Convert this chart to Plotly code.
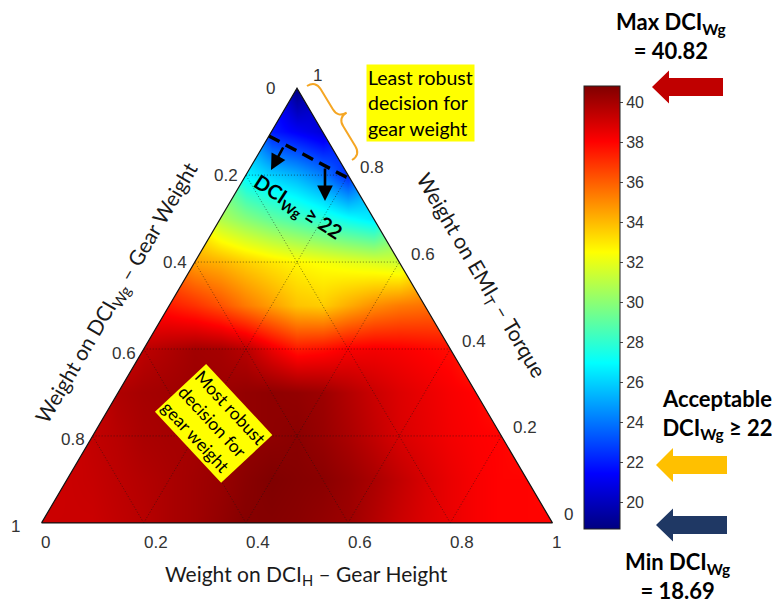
import numpy as np
import plotly.graph_objects as go

# ---------------- data ----------------
# weight on EMI_T (top vertex) for each row of samples
torque_weights = [0.0, 0.1, 0.2, 0.3, 0.4, 0.5, 0.6, 0.7, 0.8, 0.9, 1.0]
# DCI_Wg values along each row (horizontal lines of constant EMI_T weight),
# read from the left edge to the right edge in steps of 0.05 of the base width
dci_row_00 = [39.2, 39.2, 39.2, 39.4, 39.6, 39.9, 40.1, 40.4, 40.7, 40.7, 40.6,
              40.4, 40.2, 39.7, 39.2, 38.8, 38.5, 38.2, 38.0, 38.0, 38.0]
dci_row_01 = [39.2, 39.3, 39.5, 39.7, 39.9, 40.1, 40.3, 40.6, 40.82, 40.7,
              40.6, 40.3, 39.9, 39.4, 38.9, 38.5, 38.2, 38.0, 38.0]
dci_row_02 = [39.4, 39.6, 39.9, 40.0, 40.0, 40.2, 40.4, 40.5, 40.6, 40.3,
              39.9, 39.4, 38.9, 38.6, 38.3, 38.1, 38.0]
dci_row_03 = [39.8, 40.0, 40.1, 40.2, 40.2, 40.4, 40.5, 40.4, 40.2, 39.7,
              39.2, 38.8, 38.5, 38.2, 38.0]
dci_row_04 = [39.5, 39.8, 40.1, 40.0, 39.6, 38.5, 37.6, 37.8, 38.2, 38.3,
              38.2, 38.0, 37.8]
dci_row_05 = [37.5, 37.0, 36.3, 35.4, 34.6, 33.8, 33.6, 34.3, 35.0, 35.4, 35.6]
dci_row_06 = [34.6, 34.2, 33.6, 33.1, 32.7, 32.4, 32.1, 31.8, 31.5]
dci_row_07 = [30.8, 29.9, 29.1, 28.5, 27.8, 27.1, 26.5]
dci_row_08 = [26.8, 26.0, 25.3, 24.2, 22.3]
dci_row_09 = [22.0, 21.3, 20.6]
dci_row_10 = [18.69]
dci_rows = [dci_row_00, dci_row_01, dci_row_02, dci_row_03, dci_row_04, dci_row_05,
            dci_row_06, dci_row_07, dci_row_08, dci_row_09, dci_row_10]

dci_min, dci_max = 18.69, 40.82
dci_accept = 22
# EMI_T weight where the DCI_Wg = 22 boundary meets the left and right edges
accept_edge_torque = [0.89, 0.79]
axis_tick_vals = [0.0, 0.2, 0.4, 0.6, 0.8, 1.0]
axis_tick_text = ["0", "0.2", "0.4", "0.6", "0.8", "1"]
grid_vals = [0.2, 0.4, 0.6, 0.8]
cbar_ticks = [20, 22, 24, 26, 28, 30, 32, 34, 36, 38, 40]

# ---------------- geometry helpers ----------------
SQ = np.sqrt(3) / 2
OFF = 8                      # page body margin
W, H = 772, 596              # figure size (page is 780 x 604)
PL, PT, PB, PR = 16, 46, 548, 578   # plot area in page pixels
ML, MT = PL - OFF, PT - OFF
MB = H - (PB - OFF)
MR = W - (PR - OFF)
XR = [-0.05, 1.05]
YR = [-0.05, 0.95]
PW, PH = PR - PL, PB - PT


def tern(t, h):
    """EMI_T weight t (top), DCI_H weight h (bottom-right) -> cartesian."""
    return h + t / 2.0, t * SQ


def px2paper(px, py):
    return (px - PL) / PW, (PB - py) / PH


n = len(torque_weights)
xs = [round(k * 0.05, 4) for k in range(2 * n - 1)]
ys = [round(t * SQ, 6) for t in torque_weights]
Z = [[None] * len(xs) for _ in range(n)]
for i, row in enumerate(dci_rows):
    for k, v in enumerate(row):
        Z[i][i + k] = v

jet = [[0, "rgb(0,0,128)"], [0.125, "rgb(0,0,255)"], [0.375, "rgb(0,255,255)"],
       [0.625, "rgb(255,255,0)"], [0.875, "rgb(255,0,0)"], [1, "rgb(128,0,0)"]]

fig = go.Figure()

cb_x0, cb_y0 = px2paper(584, 529)
_, cb_y1 = px2paper(584, 86)
fig.add_trace(go.Heatmap(
    x=xs, y=ys, z=Z, zsmooth="best", connectgaps=True,
    colorscale=jet, zmin=dci_min, zmax=dci_max, hoverinfo="skip",
    colorbar=dict(x=cb_x0, xanchor="left", y=cb_y0, yanchor="bottom",
                  len=cb_y1 - cb_y0, lenmode="fraction", thickness=36,
                  xpad=0, ypad=0, outlinecolor="#222", outlinewidth=1,
                  tickvals=cbar_ticks, ticks="outside", ticklen=3, tickcolor="#444",
                  tickfont=dict(family="Liberation Sans, Arial", size=16, color="#333")),
))

# white masks outside the triangle
top_x, top_y = tern(1, 0)
mask_style = dict(mode="lines", fill="toself", fillcolor="white",
                  line=dict(width=0, color="white"), hoverinfo="skip", showlegend=False)
fig.add_trace(go.Scatter(x=[-0.2, 0, top_x, top_x, -0.2], y=[-0.2, 0, top_y, 1.2, 1.2], **mask_style))
fig.add_trace(go.Scatter(x=[1.2, 1, top_x, top_x, 1.2], y=[-0.2, 0, top_y, 1.2, 1.2], **mask_style))
fig.add_trace(go.Scatter(x=[-0.2, 1.2, 1.2, -0.2], y=[-0.2, -0.2, 0, 0], **mask_style))

# dotted ternary grid
gx, gy = [], []
for v in grid_vals:
    for (a, b) in [(tern(v, 0), tern(v, 1 - v)),          # constant EMI_T
                   (tern(0, v), tern(1 - v, v)),          # constant DCI_H
                   (tern(0, 1 - v), tern(1 - v, 0))]:     # constant DCI_Wg
        gx += [a[0], b[0], None]
        gy += [a[1], b[1], None]
fig.add_trace(go.Scatter(x=gx, y=gy, mode="lines", hoverinfo="skip", showlegend=False,
                         line=dict(color="rgba(20,20,20,0.55)", width=1, dash="1px,2px")))

# acceptable boundary DCI_Wg = 22 (dashed)
lx, ly = tern(accept_edge_torque[0], 0)
rx, ry = tern(accept_edge_torque[1], 1 - accept_edge_torque[1])
fig.add_trace(go.Scatter(x=[lx, rx], y=[ly, ry], mode="lines", hoverinfo="skip", showlegend=False,
                         line=dict(color="black", width=3.4, dash="12px,7px")))

# triangle outline
ox = [tern(0, 0)[0], tern(0, 1)[0], tern(1, 0)[0], tern(0, 0)[0]]
oy = [tern(0, 0)[1], tern(0, 1)[1], tern(1, 0)[1], tern(0, 0)[1]]
fig.add_trace(go.Scatter(x=ox, y=oy, mode="lines", hoverinfo="skip", showlegend=False,
                         line=dict(color="#111", width=1.2)))

annotations = []
tickfont = dict(family="Liberation Sans, Arial", size=17, color="#333")
# left edge labels: DCI_Wg weight
for v, s in zip(axis_tick_vals, axis_tick_text):
    x, y = tern(1 - v, 0)
    end = v in (0.0, 1.0)
    annotations.append(dict(x=x, y=y, text=s, showarrow=False, xanchor="right", yanchor="middle",
                            xshift=-20 if end else -6, yshift=-4 if v > 0.5 else 0, font=tickfont))
# bottom edge labels: DCI_H weight
for v, s in zip(axis_tick_vals, axis_tick_text):
    x, y = tern(0, v)
    end = v in (0.0, 1.0)
    annotations.append(dict(x=x, y=y, text=s, showarrow=False, xanchor="center", yanchor="middle",
                            xshift=4 if end else 12, yshift=-20, font=tickfont))
# right edge labels: EMI_T weight
for v, s in zip(axis_tick_vals, axis_tick_text):
    x, y = tern(v, 1 - v)
    annotations.append(dict(x=x, y=y, text=s, showarrow=False, xanchor="left", yanchor="middle",
                            xshift=14 if v == 1.0 else 10, yshift=13 if v == 1.0 else 8, font=tickfont))

titlefont = dict(family="Lato, Open Sans", size=21, color="#1a1a1a")


def ptext(px, py, text, **kw):
    xp, yp = px2paper(px, py)
    d = dict(x=xp, y=yp, xref="paper", yref="paper", text=text, showarrow=False,
             xanchor="center", yanchor="middle")
    d.update(kw)
    annotations.append(d)


ang = np.degrees(np.arctan2(SQ * PH / (YR[1] - YR[0]), 0.5 * PW / (XR[1] - XR[0])))
ptext(306, 575, "Weight on DCI<sub>H</sub> – Gear Height", font=titlefont)
ptext(117, 293, "Weight on DCI<sub>Wg</sub> – Gear Weight", font=titlefont, textangle=-ang)
ptext(481, 276, "Weight on EMI<sub>T</sub> – Torque", font=titlefont, textangle=ang)

boxfont = dict(family="Lato, Open Sans", size=19.5, color="black")
ptext(420, 103, "Least robust<br>decision for<br>gear weight", font=boxfont,
      bgcolor="#FFFF00", align="left", borderpad=1)
ptext(214, 423, "Most robust<br>decision for<br>gear weight",
      font=dict(family="Lato, Open Sans", size=17.5, color="black"),
      bgcolor="#FFFF00", align="left", borderpad=1, textangle=47)

ptext(298, 207, "<b>DCI<sub>Wg</sub> ≥ 22</b>",
      font=dict(family="Lato, Open Sans", size=20, color="black"), textangle=33)

boldfont = dict(family="Lato, Open Sans", size=22, color="black")
ptext(671, 36, "<b>Max DCI<sub>Wg</sub><br>= 40.82</b>", font=boldfont)
ptext(717, 414, "<b>Acceptable<br>DCI<sub>Wg</sub> ≥ 22</b>", font=boldfont)
ptext(677, 576, "<b>Min DCI<sub>Wg</sub><br>= 18.69</b>", font=boldfont)

# arrows from the dashed line
for (hx, hy, tx, ty) in [(271, 170, 284, 146), (325, 201, 325, 167)]:
    xp, yp = px2paper(hx, hy)
    annotations.append(dict(x=xp, y=yp, xref="paper", yref="paper", text="", showarrow=True,
                            ax=tx - hx, ay=ty - hy, axref="pixel", ayref="pixel",
                            arrowhead=2, arrowsize=1.2, arrowwidth=2.6, arrowcolor="black"))

shapes = []


def pathp(points):
    parts = []
    for k, (px, py) in enumerate(points):
        xp, yp = px2paper(px, py)
        parts.append(("M" if k == 0 else "L") + f"{xp:.5f},{yp:.5f}")
    return " ".join(parts) + " Z"


def block_arrow(tip_x, tip_y, base_x, tail_x, head_h, body_h, color):
    pts = [(tip_x, tip_y), (base_x, tip_y - head_h), (base_x, tip_y - body_h),
           (tail_x, tip_y - body_h), (tail_x, tip_y + body_h), (base_x, tip_y + body_h),
           (base_x, tip_y + head_h)]
    shapes.append(dict(type="path", xref="paper", yref="paper", path=pathp(pts),
                       fillcolor=color, line=dict(width=0)))


block_arrow(652, 87, 669, 723, 16.5, 9, "#C00000")
block_arrow(656, 465, 673, 727, 17, 9, "#FFC000")
block_arrow(656, 525, 673, 727, 16.5, 9, "#1F3864")

# orange curly brace next to the top of the right edge
p0 = np.array([307.0, 86.0])
p1 = np.array([352.0, 160.0])
u = (p1 - p0) / np.linalg.norm(p1 - p0)
nrm = np.array([u[1], -u[0]])
d, q = 10.0, 10.0
m = (p0 + p1) / 2
seq = [("M", [p0]),
       ("Q", [p0 + nrm * d, p0 + nrm * d + u * q]),
       ("L", [m + nrm * d - u * q]),
       ("Q", [m + nrm * d, m + nrm * 2 * d]),
       ("Q", [m + nrm * d, m + nrm * d + u * q]),
       ("L", [p1 + nrm * d - u * q]),
       ("Q", [p1 + nrm * d, p1])]
bp = []
for cmd, pts in seq:
    coords = []
    for pt in pts:
        xp, yp = px2paper(pt[0], pt[1])
        coords.append(f"{xp:.5f},{yp:.5f}")
    bp.append(cmd + " ".join(coords))
shapes.append(dict(type="path", xref="paper", yref="paper", path=" ".join(bp),
                   line=dict(color="#F5A623", width=2)))

fig.update_layout(
    width=W, height=H, margin=dict(l=ML, r=MR, t=MT, b=MB),
    paper_bgcolor="white", plot_bgcolor="white", showlegend=False,
    xaxis=dict(range=XR, visible=False, fixedrange=True),
    yaxis=dict(range=YR, visible=False, fixedrange=True),
    annotations=annotations, shapes=shapes,
)

fig.write_html("out.html")
